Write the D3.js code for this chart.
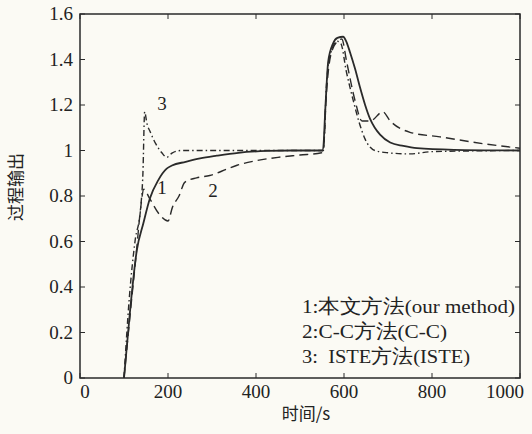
<!DOCTYPE html>
<meta charset="utf-8">
<style>
body { margin: 0; background: #fbfaf4; }
svg { font-family: "Liberation Serif", "Times New Roman", serif; }
.axis text { font-size: 19px; fill: #222; }
</style>
<svg width="532" height="434"></svg>
<script src="https://cdn.jsdelivr.net/npm/d3@7"></script>
<script>
// time (s) and process output for the three controllers
var t1 = [100,114,129,144,159,178,197,209,240,273,311,360,425,480,550,552,558,564,575,585,598,605,614,625,636,648,659,670,682,705,735,766,850,1000];
var y1 = [0,0.30,0.56,0.68,0.79,0.87,0.92,0.934,0.95,0.965,0.977,0.99,0.998,1.0,1.0,1.0,1.2,1.39,1.47,1.495,1.5,1.48,1.43,1.36,1.28,1.2,1.14,1.1,1.07,1.035,1.02,1.01,1.003,1.0];

var t2 = [100,115,128,138,145,158,180,200,210,225,238,265,295,336,357,400,450,500,549,553,560,570,585,595,606,625,641,660,688,705,750,818,916,1000];
var y2 = [0,0.30,0.55,0.75,0.83,0.79,0.72,0.69,0.75,0.80,0.86,0.88,0.89,0.92,0.935,0.955,0.97,0.98,0.99,1.0,1.25,1.42,1.48,1.49,1.39,1.22,1.13,1.13,1.17,1.13,1.08,1.06,1.03,1.01];

var t3 = [100,112,125,138,143,147,152,160,172,186,197,210,230,300,400,549,553,560,570,585,593,605,621,635,648,670,700,750,800,1000];
var y3 = [0,0.35,0.60,0.75,0.90,1.17,1.12,1.08,1.03,0.99,0.97,0.99,1.0,1.0,1.0,1.0,1.0,1.28,1.43,1.48,1.47,1.35,1.22,1.12,1.05,1.0,0.99,0.985,0.995,1.0];

var xTicks = [0,200,400,600,800,1000];
var yTicks = [0,0.2,0.4,0.6,0.8,1,1.2,1.4,1.6];
var legendLines = ["1:本文方法(our method)", "2:C-C方法(C-C)", "3:  ISTE方法(ISTE)"];

var svg = d3.select("svg");
var pLeft = 80, pRight = 520, pTop = 14, pBottom = 378;

var x = d3.scaleLinear().domain([0, 1000]).range([pLeft, pRight]);
var y = d3.scaleLinear().domain([0, 1.6]).range([pBottom, pTop]);

var ink = "#2a2a2a";

// frame
svg.append("rect")
  .attr("x", pLeft).attr("y", pTop)
  .attr("width", pRight - pLeft).attr("height", pBottom - pTop)
  .attr("fill", "none").attr("stroke", ink).attr("stroke-width", 1.5);

// inward ticks on all four sides
var g = svg.append("g").attr("class", "axis");
xTicks.forEach(function(v) {
  g.append("line").attr("x1", x(v)).attr("x2", x(v)).attr("y1", pBottom).attr("y2", pBottom - 5).attr("stroke", ink);
  g.append("line").attr("x1", x(v)).attr("x2", x(v)).attr("y1", pTop).attr("y2", pTop + 5).attr("stroke", ink);
  var lx = x(v);
  if (v == 0) lx = x(v) + 5;
  if (v == 1000) lx = x(v) - 15;
  g.append("text").attr("x", lx).attr("y", 398)
    .attr("text-anchor", "middle").text(v);
});
yTicks.forEach(function(v) {
  g.append("line").attr("x1", pLeft).attr("x2", pLeft + 5).attr("y1", y(v)).attr("y2", y(v)).attr("stroke", ink);
  g.append("line").attr("x1", pRight).attr("x2", pRight - 5).attr("y1", y(v)).attr("y2", y(v)).attr("stroke", ink);
  g.append("text").attr("x", 73).attr("y", y(v) + 6)
    .attr("text-anchor", "end").text(d3.format("~g")(v));
});

// axis titles
svg.append("text")
  .attr("transform", "translate(22,187) rotate(-90)")
  .attr("text-anchor", "middle")
  .style("font-family", "'Noto Sans CJK SC', sans-serif")
  .style("font-size", "17px").attr("fill", "#222")
  .text("过程输出");
svg.append("text")
  .attr("x", 306).attr("y", 420)
  .attr("text-anchor", "middle")
  .style("font-family", "'Noto Sans CJK SC', sans-serif")
  .style("font-size", "17px").attr("fill", "#222")
  .text("时间/s");

// curves
var line = d3.line()
  .x(function(d) { return x(d[0]); })
  .y(function(d) { return y(d[1]); })
  .curve(d3.curveMonotoneX);

function draw(ts, ys, dash, w) {
  svg.append("path")
    .datum(d3.zip(ts, ys))
    .attr("d", line)
    .attr("fill", "none")
    .attr("stroke", ink)
    .attr("stroke-width", w)
    .attr("stroke-dasharray", dash);
}
draw(t2, y2, "9,5", 1.4);
draw(t3, y3, "6,3,1.5,3", 1.4);
draw(t1, y1, null, 1.8);

// curve labels
var lab = svg.append("g").style("font-size", "19px").attr("fill", "#222");
lab.append("text").attr("x", 162).attr("y", 110).attr("text-anchor", "middle").text("3");
lab.append("text").attr("x", 162).attr("y", 194).attr("text-anchor", "middle").text("1");
lab.append("text").attr("x", 213).attr("y", 197).attr("text-anchor", "middle").text("2");

// legend text, stretched to the widths seen in the figure
var legWidth = [213, 145, 168];
var leg = svg.append("g").style("font-size", "19.5px").attr("fill", "#222");
legendLines.forEach(function(s, i) {
  leg.append("text").attr("x", 302).attr("y", 313 + i * 25)
    .attr("textLength", legWidth[i]).attr("lengthAdjust", "spacingAndGlyphs")
    .style("white-space", "pre").attr("xml:space", "preserve").text(s);
});
</script>
